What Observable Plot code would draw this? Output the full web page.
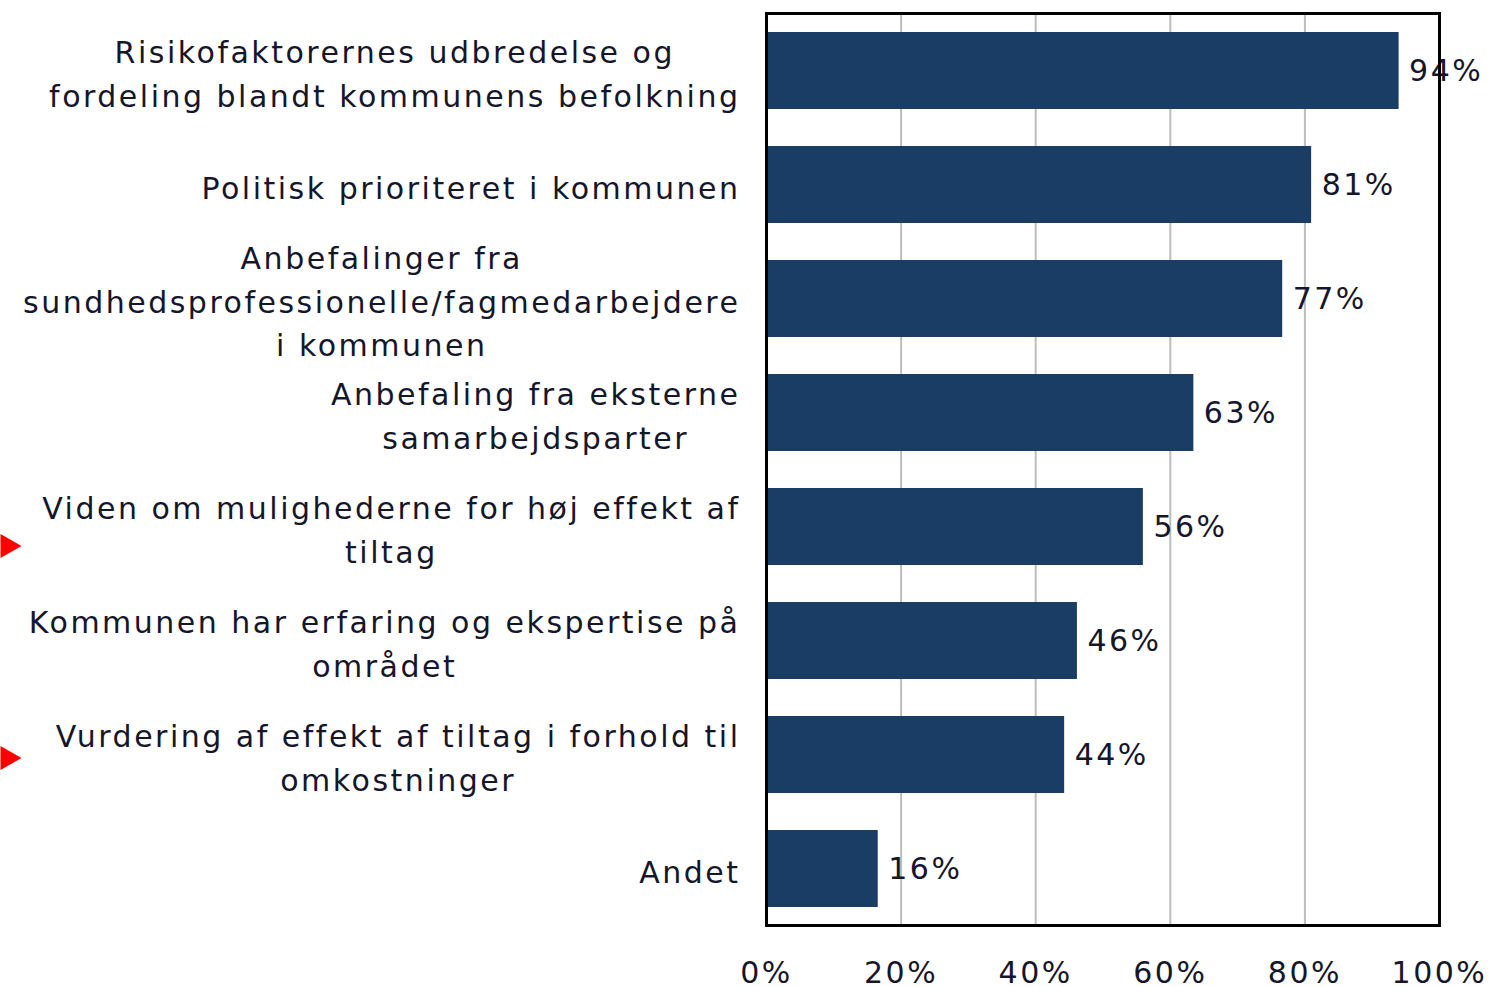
<!DOCTYPE html>
<html>
<head>
<meta charset="utf-8">
<script src="https://cdn.jsdelivr.net/npm/d3@7"></script>
<script src="https://cdn.jsdelivr.net/npm/@observablehq/plot@0.6"></script>
<style>
  html, body { margin: 0; padding: 0; background: #fff; }
  #chart svg { display: block; }
</style>
</head>
<body>
<div id="chart"></div>
<script>
const categories = [
  "Risikofaktorernes udbredelse og\nfordeling blandt kommunens befolkning",
  "Politisk prioriteret i kommunen",
  "Anbefalinger fra\nsundhedsprofessionelle/fagmedarbejdere\ni kommunen",
  "Anbefaling fra eksterne\nsamarbejdsparter",
  "Viden om mulighederne for høj effekt af\ntiltag",
  "Kommunen har erfaring og ekspertise på\nområdet",
  "Vurdering af effekt af tiltag i forhold til\nomkostninger",
  "Andet"
];
const values = [94, 81, 76.7, 63.5, 56, 46.2, 44.3, 16.6];
const valueLabels = ["94%", "81%", "77%", "63%", "56%", "46%", "44%", "16%"];
const xTicks = [0, 20, 40, 60, 80, 100];
const gridTicks = [20, 40, 60, 80];
const flaggedA = [categories[4]];
const flaggedB = [categories[6]];

const data = categories.map((c, i) => ({category: c, value: values[i], label: valueLabels[i]}));

const textColor = "#16162a";

const chart = Plot.plot({
  width: 1493,
  height: 987,
  marginLeft: 766,
  marginRight: 54,
  marginTop: 13,
  marginBottom: 62,
  style: {
    fontFamily: "'DejaVu Sans', Verdana, sans-serif",
    fontSize: "30px",
    letterSpacing: "2.5px",
    color: textColor,
    background: "#fff"
  },
  x: {domain: [0, 100], label: null},
  y: {domain: categories, paddingInner: 0.325, paddingOuter: 0.1625, label: null},
  marks: [
    Plot.gridX(gridTicks, {stroke: "#bdbdbd", strokeWidth: 2, strokeOpacity: 1}),
    Plot.barX(data, {x: "value", y: "category", fill: "#1a3d66"}),
    Plot.text(data, {x: "value", y: "category", text: "label", textAnchor: "start", dx: 10, fill: textColor}),
    Plot.frame({stroke: "#000", strokeWidth: 3}),
    Plot.axisX({ticks: xTicks, tickFormat: d => d + "%", tickSize: 0, tickPadding: 36, fill: textColor, label: null}),
    Plot.axisY({tickSize: 0, tickPadding: 26, lineHeight: 1.45, fill: textColor, label: null}),
    Plot.dot(flaggedA, {y: d => d, frameAnchor: "left", dx: -759, dy: 19, symbol: "triangle", rotate: 90, r: 9, fill: "#ff0000", stroke: "none"}),
    Plot.dot(flaggedB, {y: d => d, frameAnchor: "left", dx: -759, dy: 3, symbol: "triangle", rotate: 90, r: 9, fill: "#ff0000", stroke: "none"})
  ]
});

document.getElementById("chart").appendChild(chart);

// center-align the lines of each multi-line y label, keeping the block's right edge in place
chart.querySelectorAll('[aria-label="y-axis tick label"] text').forEach(t => {
  const w = t.getBBox().width;
  t.setAttribute("text-anchor", "middle");
  t.setAttribute("transform", (t.getAttribute("transform") || "") + ` translate(${-w / 2},0)`);
});
</script>
</body>
</html>
